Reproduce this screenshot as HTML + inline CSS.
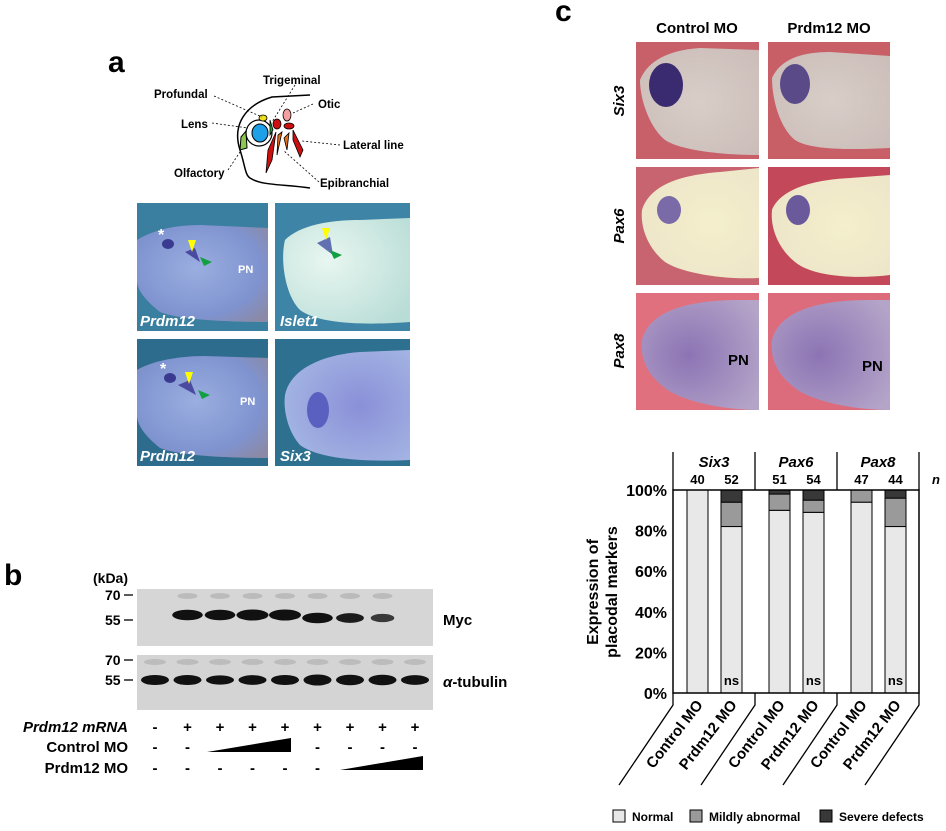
<!DOCTYPE html>
<html><head><meta charset="utf-8">
<style>
html,body{margin:0;padding:0;background:#fff;}
svg{display:block;font-family:"Liberation Sans",Arial,sans-serif;}
.b{font-weight:bold;}
</style></head>
<body>
<svg id="fig" width="946" height="831" viewBox="0 0 946 831" xmlns="http://www.w3.org/2000/svg">
<defs>
<radialGradient id="gA" cx="0.45" cy="0.45" r="0.7"><stop offset="0" stop-color="#9aaee0"/><stop offset="0.7" stop-color="#7f93d0"/><stop offset="1" stop-color="#8a8aa8"/></radialGradient>
<radialGradient id="gI" cx="0.35" cy="0.4" r="0.8"><stop offset="0" stop-color="#e8f6f0"/><stop offset="1" stop-color="#b8dcd6"/></radialGradient>
<radialGradient id="gS" cx="0.6" cy="0.5" r="0.7"><stop offset="0" stop-color="#8a90d8"/><stop offset="1" stop-color="#a6b8e4"/></radialGradient>
<radialGradient id="gC" cx="0.5" cy="0.5" r="0.7"><stop offset="0" stop-color="#d8cec8"/><stop offset="1" stop-color="#cbbcb8"/></radialGradient>
<radialGradient id="gP6" cx="0.6" cy="0.5" r="0.7"><stop offset="0" stop-color="#f4efcc"/><stop offset="1" stop-color="#ece4c8"/></radialGradient>
<radialGradient id="gP8" cx="0.4" cy="0.5" r="0.7"><stop offset="0" stop-color="#8c74b4"/><stop offset="1" stop-color="#b4a4c8"/></radialGradient>
</defs>

<text x="108" y="72" font-size="30" class="b">a</text>
<text x="4" y="585" font-size="30" class="b">b</text>
<text x="555" y="21" font-size="30" class="b">c</text>

<g font-size="11.5" font-weight="bold">
<path d="M310,95 L272,97 C245,105 232,125 240,150 C245,165 245,175 250,178 C262,186 285,184 310,188" fill="none" stroke="#000" stroke-width="1.5"/>
<path d="M241,137 L246,131 L247,148 L240,150 Z" fill="#8cc850" stroke="#000" stroke-width="1"/>
<circle cx="259" cy="133" r="13" fill="#fff" stroke="#000" stroke-width="1.2"/>
<ellipse cx="260" cy="133" rx="8" ry="9" fill="#1ea0e8" stroke="#000" stroke-width="1"/>
<ellipse cx="263" cy="118" rx="4" ry="3" fill="#f0e020" stroke="#000" stroke-width="0.8"/>
<path d="M270,120 L273,130 L270,135 Z" fill="#20a040" stroke="#000" stroke-width="0.8"/>
<ellipse cx="287" cy="115" rx="4" ry="6" fill="#f4a0a0" stroke="#000" stroke-width="0.8"/>
<ellipse cx="277" cy="124" rx="4" ry="5" fill="#cc1010" stroke="#000" stroke-width="0.8"/>
<ellipse cx="289" cy="126" rx="5" ry="3" fill="#cc1010" stroke="#000" stroke-width="0.8"/>
<path d="M268,150 L276,132 L272,160 L266,173 Z" fill="#cc1010" stroke="#000" stroke-width="0.8"/>
<path d="M278,135 L282,132 L277,155 Z" fill="#e87010" stroke="#000" stroke-width="0.8"/>
<path d="M284,138 L289,133 L287,150 Z" fill="#e87010" stroke="#000" stroke-width="0.8"/>
<path d="M293,130 L303,150 L300,157 L293,140 Z" fill="#cc1010" stroke="#000" stroke-width="0.8"/>
<g stroke="#000" stroke-width="0.8" stroke-dasharray="2,2" fill="none">
<path d="M214,96 L262,117"/><path d="M212,123 L248,128"/><path d="M295,85 L272,122"/>
<path d="M313,104 L293,113"/><path d="M340,145 L302,141"/><path d="M319,182 L283,150"/><path d="M228,170 L240,152"/>
</g>
<text x="263" y="84">Trigeminal</text>
<text x="154" y="98">Profundal</text>
<text x="318" y="108">Otic</text>
<text x="181" y="128">Lens</text>
<text x="343" y="149">Lateral line</text>
<text x="174" y="177">Olfactory</text>
<text x="320" y="187">Epibranchial</text>
</g>

<g>
<rect x="137" y="203" width="131" height="128" fill="#3a7fa0"/>
<path d="M137,240 C150,232 170,225 200,225 L268,228 L268,322 C230,322 180,320 160,312 C145,300 137,290 137,280 Z" fill="url(#gA)"/>
<ellipse cx="168" cy="244" rx="6" ry="5" fill="#3a3a90"/><path d="M185,252 L195,248 L200,262 Z" fill="#4a4aa0"/>
<text x="158" y="240" font-size="16" fill="#fff" class="b">*</text>
<path d="M188,240 L196,240 L192,252 Z" fill="#ffff00"/><path d="M200,257 L212,262 L204,266 Z" fill="#10a040"/>
<text x="238" y="273" font-size="11" fill="#fff" class="b">PN</text>
<text x="140" y="326" font-size="15" fill="#fff" font-weight="bold" font-style="italic">Prdm12</text>

<rect x="275" y="203" width="135" height="128" fill="#3d84a6"/>
<path d="M285,240 C300,225 330,220 360,220 L410,218 L410,322 C370,325 320,325 300,310 C285,295 280,260 285,240 Z" fill="url(#gI)"/>
<path d="M317,243 L330,237 L333,255 Z" fill="#6070b0"/>
<path d="M322,228 L330,228 L326,240 Z" fill="#ffff00"/><path d="M330,250 L342,255 L334,259 Z" fill="#10a040"/>
<text x="280" y="326" font-size="15" fill="#fff" font-weight="bold" font-style="italic">Islet1</text>

<rect x="137" y="339" width="131" height="127" fill="#2e6c8e"/>
<path d="M137,370 C150,362 175,356 205,356 L268,358 L268,458 C230,458 180,456 160,448 C145,436 137,425 137,415 Z" fill="url(#gA)"/>
<ellipse cx="170" cy="378" rx="6" ry="5" fill="#3a3a90"/><path d="M178,385 L190,380 L196,395 Z" fill="#4a4aa0"/>
<text x="160" y="374" font-size="16" fill="#fff" class="b">*</text>
<path d="M185,372 L193,372 L189,384 Z" fill="#ffff00"/><path d="M198,390 L210,395 L202,399 Z" fill="#10a040"/>
<text x="240" y="405" font-size="11" fill="#fff" class="b">PN</text>
<text x="140" y="461" font-size="15" fill="#fff" font-weight="bold" font-style="italic">Prdm12</text>

<rect x="275" y="339" width="135" height="127" fill="#2e7090"/>
<path d="M285,395 C290,370 320,355 360,352 L410,350 L410,460 C370,462 320,460 300,445 C288,432 283,410 285,395 Z" fill="url(#gS)"/>
<ellipse cx="318" cy="410" rx="11" ry="18" fill="#5a60c0"/>
<text x="280" y="461" font-size="15" fill="#fff" font-weight="bold" font-style="italic">Six3</text>
</g>

<g>
<text x="93" y="583" font-size="14" class="b">(kDa)</text>
<text x="105" y="600" font-size="14" class="b">70</text><line x1="124" y1="595" x2="133" y2="595" stroke="#000" stroke-width="1.3"/>
<text x="105" y="625" font-size="14" class="b">55</text><line x1="124" y1="620" x2="133" y2="620" stroke="#000" stroke-width="1.3"/>
<text x="105" y="665" font-size="14" class="b">70</text><line x1="124" y1="660" x2="133" y2="660" stroke="#000" stroke-width="1.3"/>
<text x="105" y="685" font-size="14" class="b">55</text><line x1="124" y1="680" x2="133" y2="680" stroke="#000" stroke-width="1.3"/>
<rect x="137" y="589" width="296" height="57" fill="#d6d6d6"/>
<rect x="137" y="655" width="296" height="55" fill="#d4d4d4"/>
<g id="bands"></g>
<text x="443" y="625" font-size="15" class="b">Myc</text>
<text x="443" y="687" font-size="15" class="b"><tspan font-style="italic">α</tspan>-tubulin</text>
<text x="128" y="732" font-size="15" font-weight="bold" font-style="italic" text-anchor="end">Prdm12 mRNA</text>
<text x="128" y="752" font-size="15" class="b" text-anchor="end">Control MO</text>
<text x="128" y="773" font-size="15" class="b" text-anchor="end">Prdm12 MO</text>
<g id="signs" font-size="15" font-weight="bold" text-anchor="middle"></g>
<path d="M207,752 L291,738 L291,752 Z" fill="#000"/>
<path d="M340,770 L423,756 L423,770 Z" fill="#000"/>
</g>

<g>
<text x="697" y="33" font-size="15" class="b" text-anchor="middle">Control MO</text>
<text x="829" y="33" font-size="15" class="b" text-anchor="middle">Prdm12 MO</text>
<text transform="translate(624,101) rotate(-90)" font-size="15" font-weight="bold" font-style="italic" text-anchor="middle">Six3</text>
<text transform="translate(624,226) rotate(-90)" font-size="15" font-weight="bold" font-style="italic" text-anchor="middle">Pax6</text>
<text transform="translate(624,351) rotate(-90)" font-size="15" font-weight="bold" font-style="italic" text-anchor="middle">Pax8</text>

<rect x="636" y="42" width="123" height="117" fill="#c8606a"/>
<path d="M640,80 C648,60 670,50 700,48 L759,50 L759,155 C720,155 680,150 665,140 C650,128 640,100 640,80 Z" fill="url(#gC)"/>
<ellipse cx="666" cy="85" rx="17" ry="22" fill="#3a2a70"/>
<rect x="768" y="42" width="122" height="117" fill="#c85e66"/>
<path d="M772,78 C780,60 800,52 830,52 L890,56 L890,148 C850,150 810,150 795,140 C780,128 772,100 772,78 Z" fill="url(#gC)"/>
<ellipse cx="795" cy="84" rx="15" ry="20" fill="#5a4a88"/>

<rect x="636" y="167" width="123" height="118" fill="#c86470"/>
<path d="M642,210 C650,185 680,175 720,172 L759,168 L759,278 C720,280 680,272 665,262 C650,250 640,230 642,210 Z" fill="url(#gP6)"/>
<ellipse cx="669" cy="210" rx="12" ry="14" fill="#7a6aa8"/>
<rect x="768" y="167" width="122" height="118" fill="#c2485a"/>
<path d="M772,210 C780,190 810,180 850,178 L890,175 L890,275 C850,280 810,275 795,262 C780,250 770,230 772,210 Z" fill="url(#gP6)"/>
<ellipse cx="798" cy="210" rx="12" ry="15" fill="#6a5a9c"/>

<rect x="636" y="293" width="123" height="117" fill="#e0707e"/>
<path d="M642,340 C650,310 690,300 740,300 L759,300 L759,410 C720,410 680,400 665,388 C648,375 640,360 642,340 Z" fill="url(#gP8)"/>
<text x="728" y="365" font-size="15" class="b">PN</text>
<rect x="768" y="293" width="122" height="117" fill="#dc6c7c"/>
<path d="M772,340 C780,310 820,300 870,300 L890,300 L890,410 C850,410 810,400 795,388 C778,375 770,360 772,340 Z" fill="url(#gP8)"/>
<text x="862" y="371" font-size="15" class="b">PN</text>
</g>

<g id="chart"></g>
</svg>

<script>
// ---- chart data ----
const genes = ["Six3","Pax6","Pax8"];
const conditions = ["Control MO","Prdm12 MO","Control MO","Prdm12 MO","Control MO","Prdm12 MO"];
const nCounts = [40,52,51,54,47,44];
const normalPct = [100,82,90,89,94,82];
const mildPct = [0,12,8,6,6,14];
const severePct = [0,6,2,5,0,4];
const sigLabels = ["","ns","","ns","","ns"];
const yTicks = [0,20,40,60,80,100];
const legendLabels = ["Normal","Mildly abnormal","Severe defects"];

// ---- blot data ----
const lanes = [1,2,3,4,5,6,7,8,9];
const mrnaSigns = ["-","+","+","+","+","+","+","+","+"];
const ctrlSigns = ["-","-","","","","-","-","-","-"];
const prdmSigns = ["-","-","-","-","-","-","","",""];
const mycIntensity = [0,0.95,0.95,1,1,0.95,0.85,0.7,0];
const tubIntensity = [0.9,0.9,0.8,0.85,0.9,1,0.95,0.95,0.85];

const NS = "http://www.w3.org/2000/svg";
function mk(tag, attrs, parent){const e=document.createElementNS(NS,tag);for(const k in attrs)e.setAttribute(k,attrs[k]);parent.appendChild(e);return e;}

const X0=673, X1=919, Y0=693, Y1=490;
const yScale = v => Y0 - (v/100)*(Y0-Y1);
const groupW = (X1-X0)/3;
const barX = i => X0 + Math.floor(i/2)*groupW + (i%2===0 ? 14 : 48);
const BW = 21;
const chart = document.getElementById('chart');
const fills = ["#e8e8e8","#9a9a9a","#383838"];

conditions.forEach((c,i)=>{
  const segs=[normalPct[i],mildPct[i],severePct[i]];
  let acc=0;
  segs.forEach((v,k)=>{
    if(v<=0) return;
    const r=mk('rect',{x:barX(i),y:yScale(acc+v),width:BW,height:yScale(acc)-yScale(acc+v),fill:fills[k],stroke:'#000','stroke-width':1},chart);
    
    
    acc+=v;
  });
  if(sigLabels[i]){
    const t=mk('text',{x:barX(i)+BW/2,y:Y0-8,'font-size':13,'font-weight':'bold','text-anchor':'middle'},chart);
    t.textContent=sigLabels[i];
    
    
  }
  const nt=mk('text',{x:barX(i)+BW/2,y:484,'font-size':13,'font-weight':'bold','text-anchor':'middle'},chart);
  nt.textContent=nCounts[i];
  
  
  const lt=mk('text',{transform:`translate(${barX(i)+BW/2+6},${Y0+12}) rotate(-52)`,'font-size':15,'font-weight':'bold','text-anchor':'end'},chart);
  lt.textContent=c;
  
  
});
mk('rect',{x:X0,y:Y1,width:X1-X0,height:Y0-Y1,fill:'none',stroke:'#000','stroke-width':1.5},chart);
[X0,X0+groupW,X0+2*groupW,X1].forEach(x=>{
  mk('line',{x1:x,y1:452,x2:x,y2:Y1,stroke:'#000','stroke-width':1.3},chart);
  mk('path',{d:`M${x},${Y0} L${x},${Y0+12} L${x-54},${Y0+92}`,fill:'none',stroke:'#000','stroke-width':1.3},chart);
});
genes.forEach((g,j)=>{
  const t=mk('text',{x:X0+groupW*(j+0.5),y:467,'font-size':15,'font-weight':'bold','font-style':'italic','text-anchor':'middle'},chart);
  t.textContent=g;
  
  
});
const nl=mk('text',{x:932,y:484,'font-size':13,'font-weight':'bold','font-style':'italic'},chart);nl.textContent='n';
yTicks.forEach(v=>{
  const t=mk('text',{x:667,y:yScale(v)+6,'font-size':16,'font-weight':'bold','text-anchor':'end'},chart);
  t.textContent=v+'%';
  
  
});
const yt=mk('text',{transform:'translate(598,592) rotate(-90)','font-size':16,'font-weight':'bold','text-anchor':'middle'},chart);
yt.innerHTML='<tspan x="0" dy="0">Expression of</tspan><tspan x="0" dy="19">placodal markers</tspan>';


const legX=[613,690,820];
legendLabels.forEach((l,k)=>{
  mk('rect',{x:legX[k],y:810,width:12,height:12,fill:fills[k],stroke:'#000','stroke-width':1},chart);
  const t=mk('text',{x:legX[k]+19,y:821,'font-size':12,'font-weight':'bold'},chart);
  t.textContent=l;
  
  
});

const laneX = i => 155 + i*32.5;
const bands=document.getElementById('bands');
lanes.forEach((L,i)=>{
  if(mycIntensity[i]>0){
    const b=mk('ellipse',{cx:laneX(i),cy:615+(i>=5?3:0),rx:14*mycIntensity[i]+2,ry:4.5*mycIntensity[i]+1,fill:'#111',opacity:Math.min(1,mycIntensity[i]+0.1)},bands);
    
    
    mk('ellipse',{cx:laneX(i),cy:596,rx:10,ry:3,fill:'#bbb'},bands);
  }
  const tb=mk('ellipse',{cx:laneX(i),cy:680,rx:14,ry:4.5*tubIntensity[i]+1,fill:'#111'},bands);
  
  
  mk('ellipse',{cx:laneX(i),cy:662,rx:11,ry:3,fill:'#bcbcbc'},bands);
  const sg=document.getElementById('signs');
  [[mrnaSigns,732],[ctrlSigns,752],[prdmSigns,773]].forEach(([arr,y])=>{
    if(!arr[i]) return;
    const t=mk('text',{x:laneX(i),y:y},sg);
    t.textContent=arr[i];
  });
});
</script>
</body></html>
